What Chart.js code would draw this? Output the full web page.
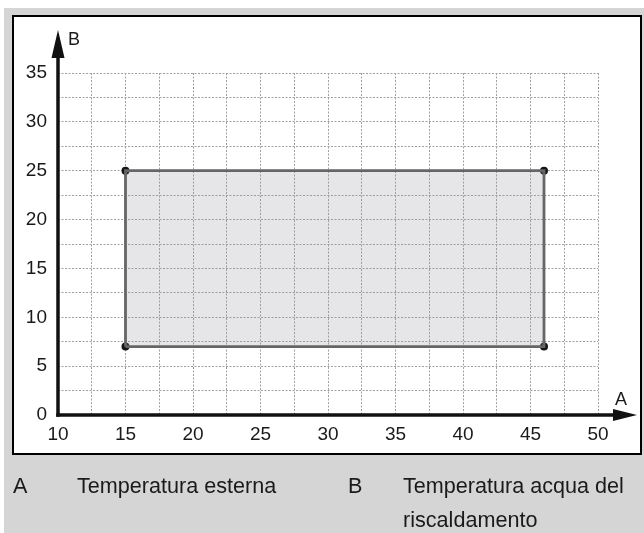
<!DOCTYPE html>
<html lang="it">
<head>
<meta charset="utf-8">
<title>Campo di funzionamento</title>
<script src="https://cdn.jsdelivr.net/npm/chart.js@4/dist/chart.umd.min.js"></script>
<style>
    body {
        margin: 0;
        background: #ffffff;
        font-family: "Liberation Sans", Arial, Helvetica, sans-serif;
    }
    #fondo {
        position: absolute;
        left: 4px;
        top: 8px;
        width: 640px;
        height: 525px;
        background: #d5d5d5;
    }
    #riquadro {
        position: absolute;
        left: 12px;
        top: 15px;
        width: 626px;
        height: 436px;
        border: 2px solid #000;
        background: #ffffff;
    }
    #grafico {
        position: absolute;
        left: 0;
        top: 0;
    }
    .legenda {
        position: absolute;
        top: 469px;
        font-size: 21.6px;
        line-height: 34px;
        color: #1a1a1a;
        white-space: nowrap;
    }
</style>
</head>
<body>
<div id="fondo"></div>
<div id="riquadro"></div>
<canvas id="grafico" width="644" height="533"></canvas>

<div class="legenda" style="left: 13px;">A</div>
<div class="legenda" style="left: 77px;">Temperatura esterna</div>
<div class="legenda" style="left: 348px;">B</div>
<div class="legenda" style="left: 403px;">Temperatura acqua del<br>riscaldamento</div>

<script>
// Assi
const asseA = { min: 10, max: 50, passo: 2.5, etichetta: 5, nome: 'A' };
const asseB = { min: 0, max: 35, passo: 2.5, etichetta: 5, nome: 'B' };

// Campo di funzionamento (contorno chiuso)
const campoA = [15, 15, 46, 46, 15];
const campoB = [7, 25, 25, 7, 7];

// Punti d'angolo
const angoliA = [15, 15, 46, 46];
const angoliB = [7, 25, 25, 7];

const fontTick = { family: '"Liberation Sans", Arial, sans-serif', size: 19 };

// Frecce degli assi e lettere A / B
const frecceAssi = {
    id: 'frecceAssi',
    afterDraw(chart) {
        const c = chart.ctx;
        const x0 = chart.scales.x.getPixelForValue(asseA.min);
        const y0 = chart.scales.y.getPixelForValue(asseB.min);
        const area = chart.chartArea;

        c.save();
        c.strokeStyle = '#111';
        c.fillStyle = '#111';
        c.lineWidth = 3.5;
        c.lineCap = 'butt';

        // asse B (verticale)
        const puntaB = area.top - 43;
        c.beginPath();
        c.moveTo(x0, y0 + 1.75);
        c.lineTo(x0, puntaB + 20);
        c.stroke();
        c.beginPath();
        c.moveTo(x0, puntaB);
        c.lineTo(x0 - 6.5, puntaB + 28);
        c.lineTo(x0 + 6.5, puntaB + 28);
        c.closePath();
        c.fill();

        // asse A (orizzontale)
        const puntaA = area.right + 39;
        c.beginPath();
        c.moveTo(x0 - 1.75, y0);
        c.lineTo(puntaA - 20, y0);
        c.stroke();
        c.beginPath();
        c.moveTo(puntaA, y0);
        c.lineTo(puntaA - 24, y0 - 6);
        c.lineTo(puntaA - 24, y0 + 6);
        c.closePath();
        c.fill();

        // lettere
        c.font = '18px "Liberation Sans", Arial, sans-serif';
        c.fillStyle = '#1a1a1a';
        c.textBaseline = 'alphabetic';
        c.textAlign = 'left';
        c.fillText(asseB.nome, x0 + 10, puntaB + 15);
        c.fillText(asseA.nome, puntaA - 22, y0 - 10);
        c.restore();
    }
};

document.addEventListener('DOMContentLoaded', function() {
    const ctx = document.getElementById('grafico');

    const contorno = campoA.map(function(a, i) { return { x: a, y: campoB[i] }; });
    const angoli = angoliA.map(function(a, i) { return { x: a, y: angoliB[i] }; });

    new Chart(ctx, {
        type: 'scatter',
        data: {
            datasets: [{
                data: contorno,
                showLine: true,
                fill: 'shape',
                backgroundColor: 'rgba(150, 150, 165, 0.24)',
                borderColor: '#666666',
                borderWidth: 2.8,
                pointRadius: 0,
                tension: 0
            }, {
                data: angoli,
                showLine: false,
                pointRadius: 4,
                pointBackgroundColor: '#151515',
                pointBorderWidth: 0
            }]
        },
        plugins: [frecceAssi],
        options: {
            responsive: false,
            animation: false,
            devicePixelRatio: 1,
            layout: {
                padding: { left: 0, right: 46, top: 73, bottom: 0 }
            },
            scales: {
                x: {
                    type: 'linear',
                    min: asseA.min,
                    max: asseA.max,
                    afterFit: function(scale) { scale.height = 118; },
                    ticks: {
                        stepSize: asseA.passo,
                        autoSkip: false,
                        maxRotation: 0,
                        padding: 8,
                        color: '#1a1a1a',
                        font: fontTick,
                        callback: function(v) { return v % asseA.etichetta === 0 ? v : ''; }
                    },
                    grid: { color: '#a0a0a0', lineWidth: 1, drawTicks: false },
                    border: { display: false, dash: [2, 1.5] }
                },
                y: {
                    type: 'linear',
                    min: asseB.min,
                    max: asseB.max,
                    afterFit: function(scale) { scale.width = 58; },
                    ticks: {
                        stepSize: asseB.passo,
                        autoSkip: false,
                        padding: 11,
                        color: '#1a1a1a',
                        font: fontTick,
                        callback: function(v) { return v % asseB.etichetta === 0 ? v : ''; }
                    },
                    grid: { color: '#a0a0a0', lineWidth: 1, drawTicks: false },
                    border: { display: false, dash: [2, 1.5] }
                }
            },
            plugins: {
                legend: { display: false },
                tooltip: { enabled: false }
            }
        }
    });
});
</script>
</body>
</html>
